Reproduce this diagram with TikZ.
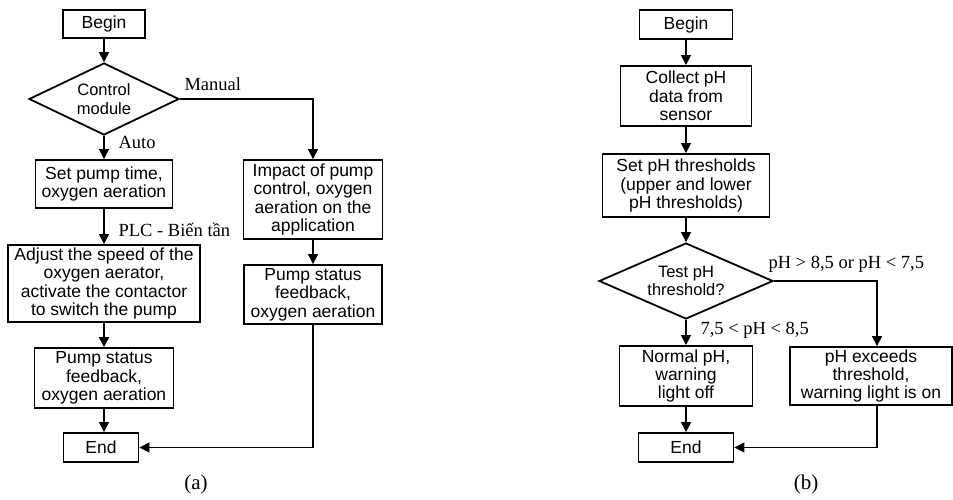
\documentclass[tikz,border=0pt]{standalone}
\usepackage{fontspec}
\setmainfont{Liberation Serif}
\setsansfont{Liberation Sans}
\usetikzlibrary{shapes.geometric,arrows.meta}

\tikzset{
	block/.style={draw, line width=1.8pt, align=center, inner sep=2pt,
		font=\sffamily\fontsize{17.5}{18.3}\selectfont},
	decision/.style={draw, diamond, line width=1.8pt, align=center, inner sep=0pt,
		font=\sffamily\fontsize{16.5}{18.3}\selectfont},
	flow/.style={line width=1.2pt, -{Triangle[length=10pt,width=10pt]}},
	lbl/.style={inner sep=2pt, font=\fontsize{18.5}{20}\selectfont},
	caption/.style={font=\fontsize{21}{24}\selectfont}
}

\begin{document}
\begin{tikzpicture}[x=1pt,y=-1pt]
	\useasboundingbox (0,0) rectangle (953,499);
	% (a) pump and aerator
	\node [block, minimum width=82, minimum height=28] (beginA) at (104,24) {Begin};
	\node [decision, aspect=2.08, minimum width=150, minimum height=72] (control) at (104,99) {Control\\module};
	\node [block, minimum width=137, minimum height=48] (setpump) at (104,184) {Set pump time,\\oxygen aeration};
	\node [block, minimum width=192, minimum height=77] (adjust) at (104,283.5) {Adjust the speed of the\\oxygen aerator,\\activate the contactor\\to switch the pump};
	\node [block, minimum width=139, minimum height=60] (statusA) at (104,378) {Pump status\\feedback,\\oxygen aeration};
	\node [block, minimum width=75, minimum height=29] (endA) at (101,447.5) {End};
	\node [block, minimum width=139, minimum height=79] (impact) at (313,199.5) {Impact of pump\\control, oxygen\\aeration on the\\application};
	\node [block, minimum width=138, minimum height=59] (statusB) at (313,294.5) {Pump status\\feedback,\\oxygen aeration};
	\node [caption] (capA) at (196,484) {(a)};

	\draw [flow] (beginA) -- (control);
	\draw [flow] (control) -- node [lbl, right=12pt, pos=0.3] {Auto} (setpump);
	\draw [flow] (control.east) node [lbl, anchor=south west, xshift=2pt, yshift=6pt] {Manual} -| (impact);
	\draw [flow] (setpump) -- node [lbl, right=12pt, pos=0.6] {PLC - Biến tần} (adjust);
	\draw [flow] (adjust) -- (statusA);
	\draw [flow] (statusA) -- (statusA |- endA.north);
	\draw [flow] (impact) -- (statusB);
	\draw [flow] (statusB) |- (endA);

	% (b) pH monitoring
	\node [block, minimum width=93, minimum height=29] (beginB) at (686,24.5) {Begin};
	\node [block, minimum width=131, minimum height=60] (collect) at (686,96) {Collect pH\\data from\\sensor};
	\node [block, minimum width=167, minimum height=63] (setph) at (686,185.5) {Set pH thresholds\\(upper and lower\\pH thresholds)};
	\node [decision, aspect=2.3, minimum width=174, minimum height=76] (test) at (686,281) {Test pH\\threshold?};
	\node [block, minimum width=133, minimum height=60] (normal) at (686,376) {Normal pH,\\warning\\light off};
	\node [block, minimum width=95, minimum height=29] (endB) at (686,447.5) {End};
	\node [block, minimum width=162, minimum height=58] (exceeds) at (871,376) {pH exceeds\\threshold,\\warning light is on};
	\coordinate (drop) at (877,281);
	\node [caption] (capB) at (806,484) {(b)};

	\draw [flow] (beginB) -- (collect);
	\draw [flow] (collect) -- (setph);
	\draw [flow] (setph) -- (test);
	\draw [flow] (test) -- node [lbl, right=12pt, pos=0.4] {7,5 < pH < 8,5} (normal);
	\draw [flow] (test.east) node [lbl, anchor=south west, xshift=-8pt, yshift=6pt] {pH > 8,5 or pH < 7,5} -- (drop) -- (drop |- exceeds.north);
	\draw [flow] (drop |- exceeds.south) |- (endB);
	\draw [flow] (normal) -- (endB);
\end{tikzpicture}
\end{document}
